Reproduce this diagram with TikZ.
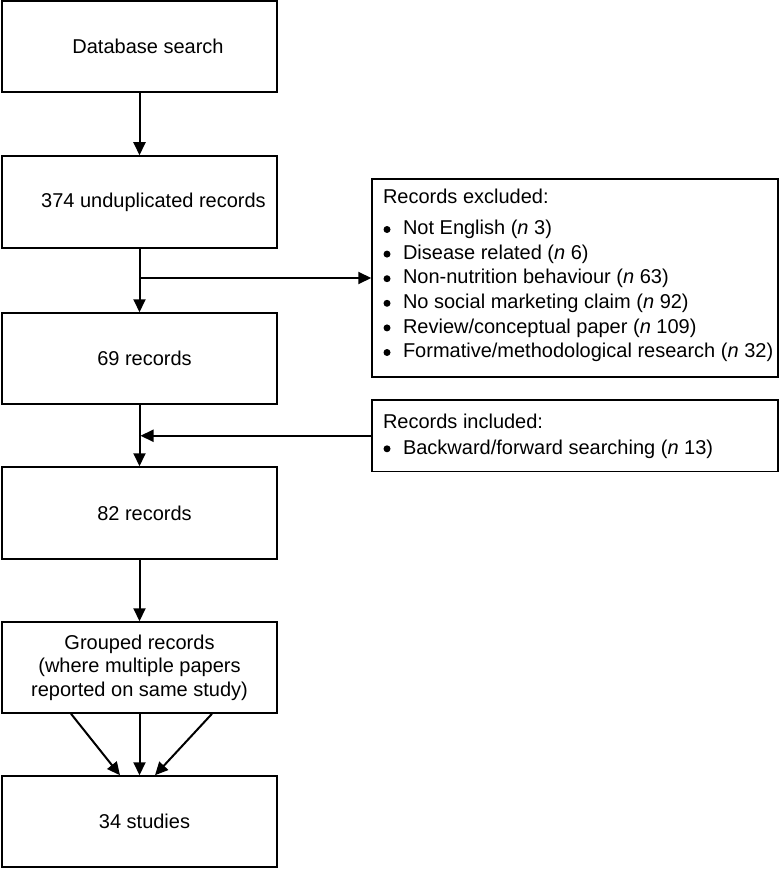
\documentclass[tikz,border=0pt]{standalone}
\usepackage{fontspec}
\setmainfont{Liberation Sans}
\usetikzlibrary{arrows.meta,calc}
\newcommand\bul{\makebox[20pt][l]{\hspace{0.5pt}\raisebox{1.7pt}{\tikz\fill (0pt,0pt) circle[radius=3.5pt];}}}
\begin{document}
\begin{tikzpicture}[x=1pt,y=-1pt,
  font=\fontsize{20pt}{24.6pt}\selectfont,
  mainbox/.style={draw,line width=1.5pt,minimum width=275pt,inner sep=0pt,align=center},
  sidebox/.style={draw,line width=1.5pt,minimum width=406pt,inner xsep=11pt,inner ysep=0pt},
  arr/.style={line width=2pt,-{Triangle[length=13pt,width=12pt]}}]
\useasboundingbox (0,0) rectangle (780,869);
\node[mainbox,minimum height=91pt] (b1) at (139.5,46.5) {\hspace*{17pt}Database search};
\node[mainbox,minimum height=92pt] (b2) at (139.5,202) {\hspace*{28pt}374 unduplicated records};
\node[mainbox,minimum height=91pt] (b3) at (139.5,358.5) {\hspace*{10pt}69 records};
\node[mainbox,minimum height=92pt] (b4) at (139.5,513) {\hspace*{10pt}82 records};
\node[mainbox,minimum height=91pt,font=\fontsize{20pt}{23.5pt}\selectfont] (b5) at (139.5,667.5) {Grouped records\\(where multiple papers\\reported on same study)};
\node[mainbox,minimum height=91pt] (b6) at (139.5,821.5) {\hspace*{10pt}34 studies};
\node[sidebox] (excl) at (575,278) {\raisebox{0pt}[24pt][174pt]{\parbox[t]{384pt}{\raggedright
Records excluded:\\[7.1pt]
\bul Not English (\textit{n} 3)\\
\bul Disease related (\textit{n} 6)\\
\bul Non-nutrition behaviour (\textit{n} 63)\\
\bul No social marketing claim (\textit{n} 92)\\
\bul Review/conceptual paper (\textit{n} 109)\\
\mbox{\bul Formative/methodological research (\textit{n} 32)}}}};
\node[sidebox] (incl) at (575,435.75) {\raisebox{0pt}[28pt][43.5pt]{\parbox[t]{384pt}{\raggedright
Records included:\\[1.4pt]
\bul Backward/forward searching (\textit{n} 13)}}};
\draw[arr] (b1) -- (b2);
\draw[arr] (b2) -- (b3);
\draw[arr] (b2.south |- excl.west) -- (excl.west);
\draw[arr] (b3) -- (b4);
\draw[arr] (incl.west) -- ([xshift=1pt]b3.south |- incl.west);
\draw[arr] (b4) -- (b5);
\draw[arr] ([xshift=-68.5pt]b5.south) -- ([xshift=-19.5pt]b6.north);
\draw[arr] (b5) -- (b6);
\draw[arr] ([xshift=72.5pt]b5.south) -- ([xshift=15.5pt]b6.north);
\end{tikzpicture}
\end{document}
